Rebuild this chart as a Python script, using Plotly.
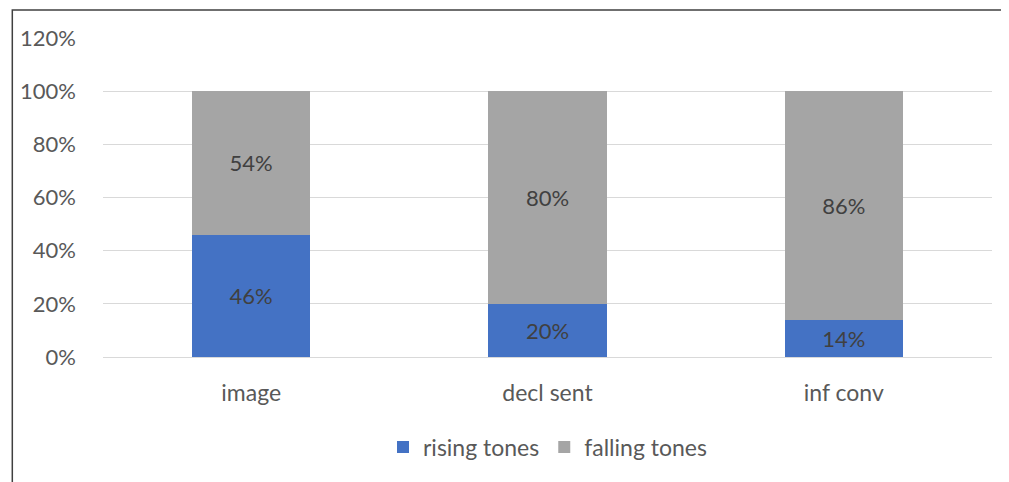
import plotly.graph_objects as go

categories = ["image", "decl sent", "inf conv"]
rising = [0.46, 0.20, 0.14]
falling = [0.54, 0.80, 0.86]
tick_vals = [0, 0.2, 0.4, 0.6, 0.8, 1.0, 1.2]
tick_text = ["0%", "20%", "40%", "60%", "80%", "100%", "120%"]

FONT = "Lato, Carlito, Calibri, sans-serif"

fig = go.Figure()
fig.add_trace(go.Bar(
    x=categories, y=rising, name="rising tones",
    marker=dict(color="#4472C4", line=dict(width=0)),
    texttemplate="%{y:.0%}", textposition="inside", insidetextanchor="middle",
    textfont=dict(color="#404040", size=22, family=FONT),
))
fig.add_trace(go.Bar(
    x=categories, y=falling, name="falling tones",
    marker=dict(color="#A5A5A5", line=dict(width=0)),
    texttemplate="%{y:.0%}", textposition="inside", insidetextanchor="middle",
    textfont=dict(color="#404040", size=22, family=FONT),
))

OFF = 8
W, H = 1001, 474
L = 100 - OFF
T = 38 - OFF
R = W - (992 - OFF)
B = H - (357 - OFF)
pw = W - L - R
ph = H - T - B

def px_x(x):
    return (x - OFF - L) / pw

def px_y(y):
    return (T + ph - (y - OFF)) / ph

fig.update_layout(
    width=W, height=H,
    barmode="stack", bargap=0.6,
    margin=dict(l=L, r=R, t=T, b=B, pad=0),
    paper_bgcolor="white", plot_bgcolor="white",
    font=dict(family=FONT, color="#595959", size=22),
    showlegend=True,
    legend=dict(
        orientation="h", x=0.5, xanchor="center",
        y=px_y(447), yanchor="middle",
        font=dict(size=23, color="#595959", family=FONT),
        traceorder="normal",
    ),
    xaxis=dict(showgrid=False, showline=False, ticks="", tickfont=dict(size=23),
               ticklabelstandoff=20),
    yaxis=dict(
        range=[0, 1.2], tickvals=tick_vals, ticktext=tick_text,
        showgrid=True, gridcolor="#D9D9D9", gridwidth=1,
        zeroline=True, zerolinecolor="#D9D9D9", zerolinewidth=1,
        showline=False, ticks="", ticklabelstandoff=26,
        tickfont=dict(size=22),
    ),
    shapes=[
        # outer chart border; only its left and top edges fall inside the page
        dict(type="rect", xref="paper", yref="paper",
             x0=px_x(9), x1=px_x(1060),
             y0=px_y(540), y1=px_y(10),
             fillcolor="rgba(0,0,0,0)",
             line=dict(color="#404040", width=1.5)),
    ],
)

fig.write_html("out.html", config={"displayModeBar": False})
